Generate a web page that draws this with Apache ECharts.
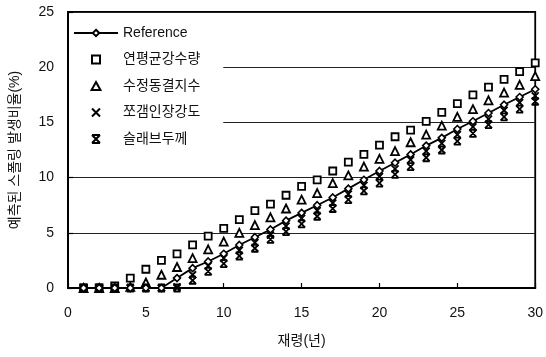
<!DOCTYPE html>
<html>
<head>
<meta charset="utf-8">
<script src="https://cdn.jsdelivr.net/npm/echarts@6/dist/echarts.min.js"></script>
<style>
  html, body { margin: 0; padding: 0; background: #fff; }
  #chart { width: 546px; height: 357px; }
</style>
</head>
<body>
<div id="chart"></div>
<script>
// Age in years (x) and predicted spalling ratio (%) for each model
const ages = [1,2,3,4,5,6,7,8,9,10,11,12,13,14,15,16,17,18,19,20,21,22,23,24,25,26,27,28,29,30];

const reference = [0,0,0,0,0,0,0.9,1.8,2.4,3.1,3.9,4.6,5.3,6.1,6.8,7.5,8.2,9.0,9.8,10.6,11.35,12.1,12.9,13.6,14.4,15.1,15.85,16.6,17.3,18.0];
const rainfall  = [0,0,0.2,0.9,1.7,2.5,3.1,3.9,4.7,5.4,6.2,7.0,7.6,8.4,9.2,9.8,10.6,11.4,12.1,12.95,13.7,14.3,15.1,15.9,16.7,17.5,18.2,18.9,19.6,20.4];
const freezeIdx = [0,0,0,0.1,0.5,1.2,1.9,2.7,3.5,4.2,5.0,5.7,6.4,7.2,8.0,8.6,9.5,10.2,11.0,11.7,12.4,13.2,13.9,14.7,15.5,16.2,17.0,17.7,18.4,19.2];
const tensile   = [0,0,0,0,0,0,0.1,1.2,2.0,2.7,3.4,4.1,4.8,5.6,6.3,7.0,7.7,8.5,9.3,10.1,10.8,11.6,12.4,13.1,13.9,14.6,15.3,16.1,16.8,17.4];
const slabThk   = [0,0,0,0,0,0,0,0.7,1.5,2.2,2.9,3.6,4.4,5.1,5.8,6.5,7.2,8.0,8.8,9.5,10.3,11.0,11.8,12.5,13.3,14.0,14.8,15.5,16.2,16.9];

const seriesNames = ['Reference', '연평균강수량', '수정동결지수', '쪼갬인장강도', '슬래브두께'];
const xTicks = [0, 5, 10, 15, 20, 25, 30];
const yTicks = [0, 5, 10, 15, 20, 25];

const pair = vals => ages.map((a, i) => [a, vals[i]]);

const FONT = '"Liberation Sans", "Noto Sans CJK KR", sans-serif';
const INK = '#000';

// Path symbols keep their aspect ratio in the legend as well as the plot
const squarePath   = 'path://M0,0L10,0L10,10L0,10Z';
const trianglePath = 'path://M5,0L10,9L0,9Z';
const crossPath    = 'path://M0,0L10,10M10,0L0,10';
const starPath     = 'path://M0,0L10,10M10,0L0,10M0,0L10,0M0,10L10,10';

const hollow  = { color: '#fff', borderColor: INK, borderWidth: 1.8, opacity: 1 };
const stroked = { color: 'rgba(0,0,0,0)', borderColor: INK, borderWidth: 1.8, opacity: 1 };

const chart = echarts.init(document.getElementById('chart'), null, { renderer: 'canvas' });
chart.setOption({
  animation: false,
  backgroundColor: '#fff',
  textStyle: { fontFamily: FONT, color: '#111' },
  grid: {
    left: 67, right: 9, top: 12, bottom: 69,
    show: true, borderColor: INK, borderWidth: 1.8, backgroundColor: 'transparent'
  },
  legend: {
    orient: 'vertical',
    left: 69, top: 14,
    padding: [12, 23, 12, 4],
    backgroundColor: '#fff',
    itemWidth: 44, itemHeight: 8, itemGap: 12.5,
    textStyle: { fontSize: 14, color: '#111', fontFamily: FONT },
    data: seriesNames
  },
  xAxis: {
    type: 'value',
    min: xTicks[0], max: xTicks[xTicks.length - 1], interval: 5,
    name: '재령(년)', nameLocation: 'middle', nameGap: 46,
    nameTextStyle: { fontSize: 14, color: '#111' },
    axisLine: { lineStyle: { color: INK, width: 2 } },
    axisTick: { inside: true, length: 5, lineStyle: { color: INK, width: 1.2 } },
    axisLabel: { fontSize: 14, color: '#111', margin: 18 },
    splitLine: { show: false }
  },
  yAxis: {
    type: 'value',
    min: yTicks[0], max: yTicks[yTicks.length - 1], interval: 5,
    name: '예측된 스폴링 발생비율(%)', nameLocation: 'middle', nameGap: 46,
    nameTextStyle: { fontSize: 14, color: '#111' },
    axisLine: { lineStyle: { color: INK, width: 2 } },
    axisTick: { inside: true, length: 5, lineStyle: { color: INK, width: 1.2 } },
    axisLabel: { fontSize: 14, color: '#111', margin: 14 },
    splitLine: { show: true, lineStyle: { color: '#222', width: 1 } }
  },
  series: [
    {
      name: seriesNames[0], type: 'line', data: pair(reference),
      symbol: 'diamond', symbolSize: 7, showAllSymbol: true,
      lineStyle: { color: INK, width: 1.8 },
      itemStyle: { color: '#fff', borderColor: INK, borderWidth: 1.6 }, z: 5
    },
    {
      name: seriesNames[1], type: 'scatter', data: pair(rainfall),
      symbol: squarePath, symbolSize: 7, itemStyle: hollow
    },
    {
      name: seriesNames[2], type: 'scatter', data: pair(freezeIdx),
      symbol: trianglePath, symbolSize: 8, itemStyle: hollow
    },
    {
      name: seriesNames[3], type: 'scatter', data: pair(tensile),
      symbol: crossPath, symbolSize: 7, itemStyle: stroked
    },
    {
      name: seriesNames[4], type: 'scatter', data: pair(slabThk),
      symbol: starPath, symbolSize: 7, itemStyle: stroked
    }
  ]
});
</script>
</body>
</html>
